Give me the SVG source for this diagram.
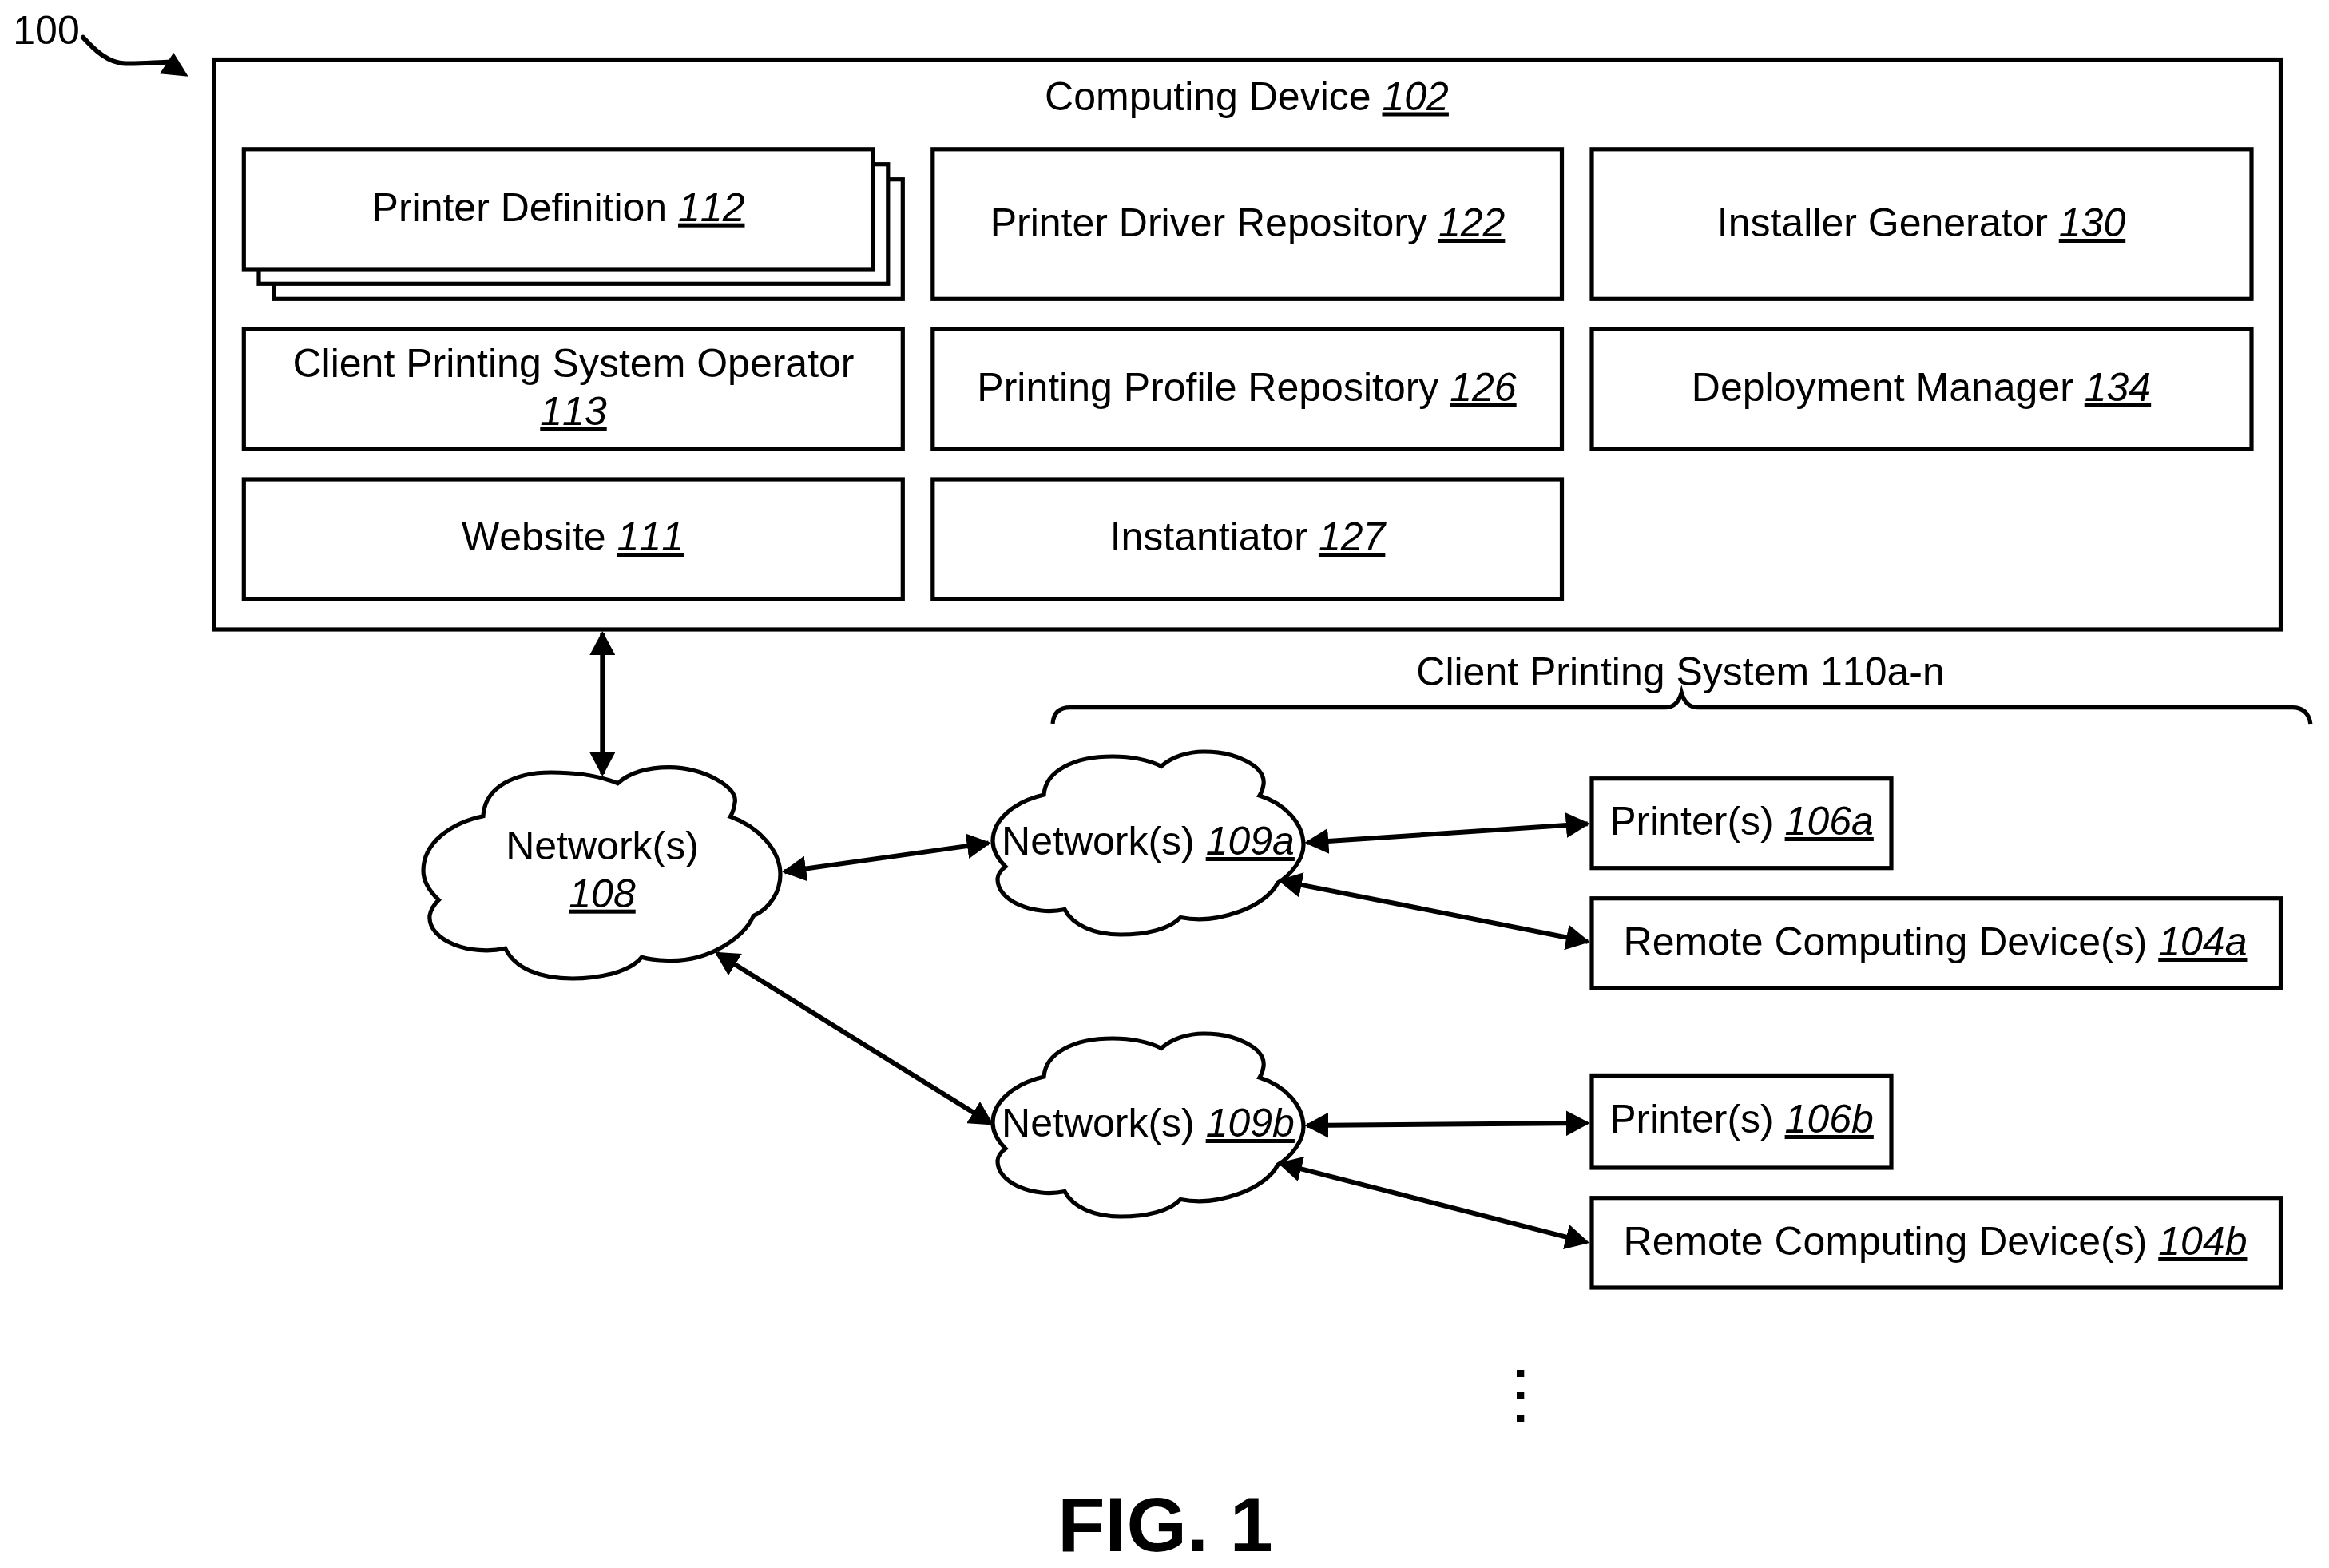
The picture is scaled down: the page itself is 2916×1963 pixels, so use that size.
<svg xmlns="http://www.w3.org/2000/svg" width="2916" height="1963" viewBox="0 0 2916 1963">
<style>
text{font-family:"Liberation Sans",Arial,sans-serif;font-size:50px;fill:#000;text-anchor:middle;font-kerning:none}
tspan.r{font-style:italic;text-decoration:underline}
.b{fill:#fff;stroke:#000;stroke-width:5.2}
.l{fill:none;stroke:#000;stroke-width:5.2}
.c{stroke:#000;stroke-width:6;fill:none;marker-start:url(#h);marker-end:url(#h)}
</style>
<defs>
<marker id="h" markerUnits="userSpaceOnUse" markerWidth="30" markerHeight="32" refX="27" refY="16" orient="auto-start-reverse"><path d="M0,0L30,16L0,32Z" fill="#000"/></marker>
<path id="cl" class="b" d="M1454,959.3C1468,947 1488,941 1507,941C1545,941 1585,958 1582,982Q1581,990 1577,996C1608,1006 1632,1030 1632,1058C1632,1075 1617,1095 1600,1105C1585,1135 1525,1158 1478,1148.5C1465,1163 1435,1170 1403,1170C1370,1170 1343,1158 1333,1138.5C1295,1147 1248,1128 1249,1100Q1249.5,1092 1259,1085C1249,1075 1243,1065 1243,1053C1243,1025 1272,1003 1307,995C1309,965 1345,947 1393,947C1415,947 1437,951 1454,959.3Z"/>
</defs>
<rect width="2916" height="1963" fill="#fff"/>
<g id="label-100"><text x="58" y="55">100</text><path class="l" style="stroke-width:6;stroke-linecap:round" d="M104,46.7C118,62 135,79 157,79.5C175,80 195,78 214,77.5"/><path d="M235.7,95.7L217.3,66L200,92.3Z"/></g>
<g id="computing-device-102"><rect class="b" x="268" y="74.5" width="2587.5" height="713.5"/><text x="1561" y="137.5">Computing Device <tspan class="r">102</tspan></text></g>
<g id="printer-definition-112"><rect class="b" x="342.7" y="224.7" width="787.6" height="149.6"/><rect class="b" x="324" y="205.7" width="787.8" height="149.6"/><rect class="b" x="305.3" y="186.8" width="787.9" height="150.2"/><text x="699" y="276.7">Printer Definition <tspan class="r">112</tspan></text></g>
<g id="printer-driver-repository-122"><rect class="b" x="1167.8" y="186.8" width="787.7" height="187.5"/><text x="1562" y="296">Printer Driver Repository <tspan class="r">122</tspan></text></g>
<g id="installer-generator-130"><rect class="b" x="1993" y="186.8" width="826" height="187.5"/><text x="2405.5" y="296">Installer Generator <tspan class="r">130</tspan></text></g>
<g id="client-printing-system-operator-113"><rect class="b" x="305.3" y="411.8" width="825" height="150"/><text x="718" y="472">Client Printing System Operator</text><text x="718" y="531.6"><tspan class="r">113</tspan></text></g>
<g id="printing-profile-repository-126"><rect class="b" x="1167.8" y="411.8" width="787.7" height="150"/><text x="1561" y="502">Printing Profile Repository <tspan class="r">126</tspan></text></g>
<g id="deployment-manager-134"><rect class="b" x="1993" y="411.8" width="826" height="150"/><text x="2405.5" y="502">Deployment Manager <tspan class="r">134</tspan></text></g>
<g id="website-111"><rect class="b" x="305.3" y="600" width="825" height="150"/><text x="717" y="689">Website <tspan class="r">111</tspan></text></g>
<g id="instantiator-127"><rect class="b" x="1167.8" y="600" width="787.7" height="150"/><text x="1562" y="689">Instantiator <tspan class="r">127</tspan></text></g>
<g id="connectors">
<path class="c" d="M754.3,793V969"/>
<path class="c" d="M982.3,1091.3L1237.7,1055.4"/>
<path class="c" d="M897.5,1193.3L1241.5,1406.9"/>
<path class="c" d="M1636.3,1054.8L1987.7,1031.2"/>
<path class="c" d="M1603,1102.6L1987.8,1178.7"/>
<path class="c" d="M1636.3,1409L1987.7,1406"/>
<path class="c" d="M1602.9,1456.7L1987.1,1555.3"/>
</g>
<g id="network-108"><path class="b" d="M773.3,980.7C790,966 812,960.7 838,960.7C880,961 925,985 920,1005Q919,1015 914.3,1022.3C950,1035 977,1065 977,1095C977,1115 965,1137 943.3,1146.7C932,1172 890,1204 836,1202.5Q815,1202 803.3,1198.3C790,1215 755,1225 717,1225C675,1225 645,1212 632.7,1187.3C590,1197 535,1178 538,1146Q540,1136 549.3,1126.7C537,1115 530,1102 530,1090C530,1055 565,1030 605,1021.7C607,985 645,967 690,967C720,967 750,971 773.3,980.7Z"/><text x="754" y="1076">Network(s)</text><text x="754" y="1135.7"><tspan class="r">108</tspan></text></g>
<g id="network-109a"><use href="#cl"/><text x="1437.5" y="1070">Network(s) <tspan class="r">109a</tspan></text></g>
<g id="network-109b"><use href="#cl" y="353"/><text x="1437.5" y="1423">Network(s) <tspan class="r">109b</tspan></text></g>
<g id="client-printing-system-brace"><text x="2104" y="858">Client Printing System 110a-n</text><path class="l" d="M1318,906C1319,893 1326,885.7 1340,885.7H2085C2096,885.7 2102,879 2105.3,867C2108.6,879 2115,885.7 2126,885.7H2870C2884,885.7 2891,893 2893,907"/></g>
<g id="printer-106a"><rect class="b" x="1993" y="974.7" width="375" height="112"/><text x="2180.5" y="1045">Printer(s) <tspan class="r">106a</tspan></text></g>
<g id="remote-computing-device-104a"><rect class="b" x="1993" y="1124.7" width="862.5" height="112"/><text x="2423" y="1196">Remote Computing Device(s) <tspan class="r">104a</tspan></text></g>
<g id="printer-106b"><rect class="b" x="1993" y="1346.4" width="375" height="115.6"/><text x="2180.5" y="1418">Printer(s) <tspan class="r">106b</tspan></text></g>
<g id="remote-computing-device-104b"><rect class="b" x="1993" y="1499.7" width="862.5" height="112.3"/><text x="2423" y="1571">Remote Computing Device(s) <tspan class="r">104b</tspan></text></g>
<g id="continuation-dots"><rect x="1899" y="1715" width="9.3" height="9"/><rect x="1899" y="1743" width="9.3" height="9"/><rect x="1899" y="1771" width="9.3" height="9"/></g>
<text id="fig-label" x="1459" y="1941.7" style="font-size:97px;font-weight:bold">FIG. 1</text>
</svg>
